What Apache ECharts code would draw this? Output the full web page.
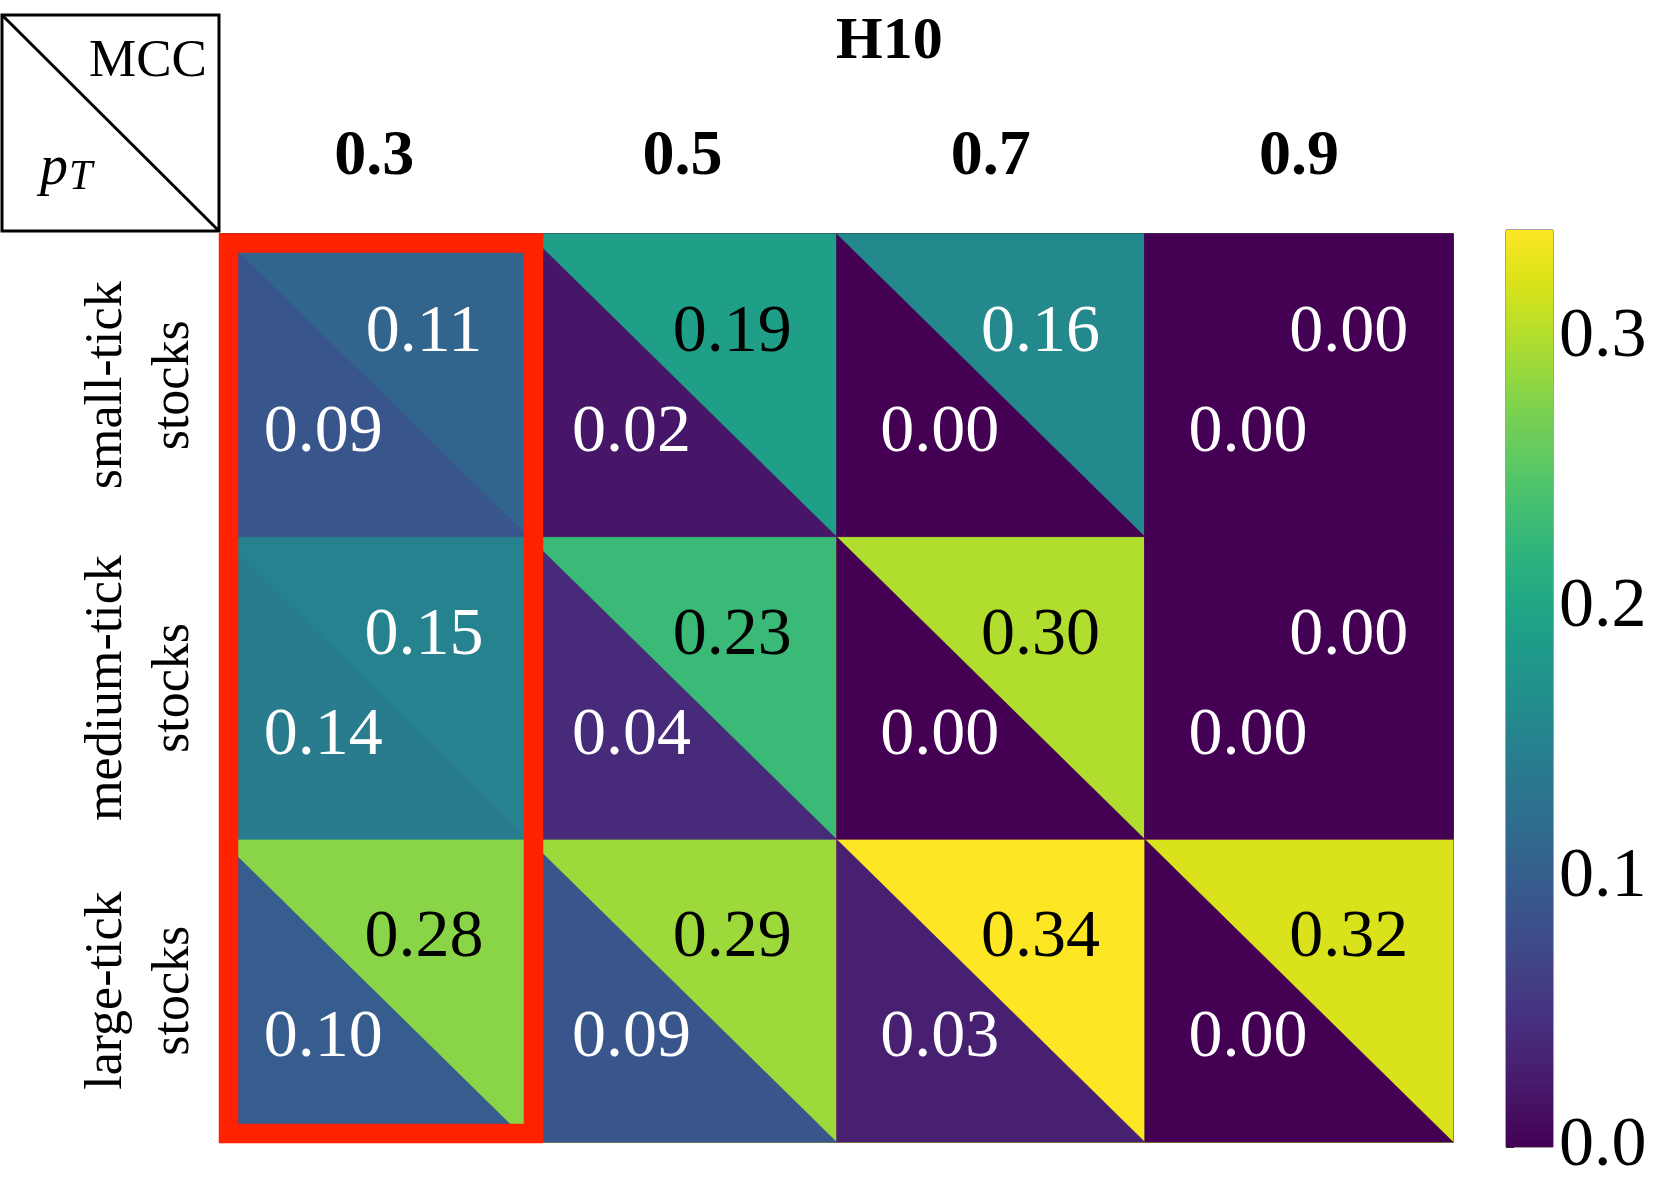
<!DOCTYPE html>
<html>
<head>
<meta charset="utf-8">
<script src="https://cdn.jsdelivr.net/npm/echarts@6/dist/echarts.min.js"></script>
<style>
  html, body { margin: 0; padding: 0; background: #fff; }
  #chart { width: 1661px; height: 1200px; }
</style>
</head>
<body>
<div id="chart"></div>
<script>
// 横轴: H10 阈值, 纵轴: 股票分组
var thresholds = ['0.3', '0.5', '0.7', '0.9']
var groups = ['small-tick\nstocks', 'medium-tick\nstocks', 'large-tick\nstocks']
// 右上三角 = MCC, 左下三角 = p_T
var mccValues = [
  [0.11, 0.19, 0.16, 0.00],
  [0.15, 0.23, 0.30, 0.00],
  [0.28, 0.29, 0.34, 0.32]
]
var ptValues = [
  [0.09, 0.02, 0.00, 0.00],
  [0.14, 0.04, 0.00, 0.00],
  [0.10, 0.09, 0.03, 0.00]
]
var colorbarTicks = [0, 0.1, 0.2, 0.3]
var vmax = 0.34

var viridis = ['#440154', '#471365', '#482475', '#463480', '#414487', '#3b528b', '#355f8d',
  '#2f6c8e', '#2a788e', '#25848e', '#21918c', '#1e9c89', '#22a884', '#2fb47c', '#44bf70',
  '#5ec962', '#7ad151', '#9bd93c', '#bddf26', '#dfe318', '#fde725']

var serif = '"Liberation Serif", "DejaVu Serif", serif'

// [列, 行, 值, 0=上三角/1=下三角]  上三角先画整格, 下三角再盖上去
var cells = []
for (var r = 0; r < groups.length; r++) {
  for (var c = 0; c < thresholds.length; c++) {
    cells.push([c, r, mccValues[r][c], 0])
  }
}
for (var r2 = 0; r2 < groups.length; r2++) {
  for (var c2 = 0; c2 < thresholds.length; c2++) {
    cells.push([c2, r2, ptValues[r2][c2], 1])
  }
}

function renderTriangle(params, api) {
  var center = api.coord([api.value(0), api.value(1)])
  var size = api.size([1, 1])
  var w = size[0]
  var h = size[1]
  var L = center[0] - w / 2
  var R = center[0] + w / 2
  var T = center[1] - h / 2
  var B = center[1] + h / 2
  var upper = api.value(3) === 0
  var color = api.visual('color')
  var v = api.value(2)
  var shape = upper
    ? { type: 'polygon', shape: { points: [[L, T], [R, T], [R, B], [L, B]] } }
    : { type: 'polygon', shape: { points: [[L, T], [L, B], [R, B]] } }
  shape.style = { fill: color, stroke: color, lineWidth: upper ? 1 : 0.6 }
  var tx = upper ? center[0] + w * 0.162 : center[0] - w * 0.165
  var ty = upper ? center[1] - h * 0.172 : center[1] + h * 0.158
  return {
    type: 'group',
    children: [
      shape,
      {
        type: 'text',
        z2: 10,
        style: {
          text: v.toFixed(2),
          x: tx,
          y: ty,
          fill: v >= 0.17 ? '#000' : '#fff',
          font: '68px ' + serif,
          align: 'center',
          verticalAlign: 'middle'
        }
      }
    ]
  }
}

function renderColorbar(params, api) {
  var p0 = api.coord([0, 0])
  var p1 = api.coord([1, vmax])
  var stops = viridis.map(function (col, i) {
    return { offset: 1 - i / (viridis.length - 1), color: col }
  })
  return {
    type: 'rect',
    shape: { x: p0[0], y: p1[1], width: p1[0] - p0[0], height: p0[1] - p1[1] },
    style: { fill: new echarts.graphic.LinearGradient(0, 0, 0, 1, stops) }
  }
}

var chart = echarts.init(document.getElementById('chart'), null, { renderer: 'canvas' })

var option = {
  backgroundColor: '#fff',
  animation: false,
  title: {
    text: 'H10',
    left: 831,
    top: 7,
    textStyle: { fontFamily: serif, fontWeight: 'bold', fontSize: 60, color: '#000' }
  },
  grid: [
    { left: 220, top: 234, width: 1233, height: 908, show: true, borderColor: '#000', borderWidth: 1.5 },
    { left: 1506, top: 230, width: 47, height: 917, show: true, borderColor: '#444', borderWidth: 1 }
  ],
  xAxis: [
    {
      type: 'category',
      gridIndex: 0,
      position: 'top',
      data: thresholds,
      axisLine: { show: false },
      axisTick: { show: false },
      axisLabel: { margin: 45, fontFamily: serif, fontWeight: 'bold', fontSize: 64, color: '#000' }
    },
    { type: 'value', gridIndex: 1, min: 0, max: 1, show: false }
  ],
  yAxis: [
    {
      type: 'category',
      gridIndex: 0,
      inverse: true,
      data: groups,
      axisLine: { show: false },
      axisTick: { show: false },
      axisLabel: {
        interval: 0,
        rotate: 90,
        margin: 12,
        fontFamily: serif,
        fontSize: 52,
        lineHeight: 67,
        color: '#000'
      }
    },
    {
      type: 'value',
      gridIndex: 1,
      position: 'right',
      min: 0,
      max: vmax,
      interval: 0.1,
      splitLine: { show: false },
      axisLine: { show: false },
      axisTick: { show: true, length: 8, lineStyle: { color: '#000', width: 1.5 } },
      axisLabel: {
        margin: 6,
        padding: [10, 0, 0, 0],
        fontFamily: serif,
        fontSize: 70,
        color: '#000',
        showMaxLabel: false,
        formatter: function (v) {
          return colorbarTicks.indexOf(Math.round(v * 10) / 10) >= 0 ? v.toFixed(1) : ''
        }
      }
    }
  ],
  visualMap: {
    type: 'continuous',
    show: false,
    min: 0,
    max: vmax,
    dimension: 2,
    seriesIndex: 0,
    inRange: { color: viridis }
  },
  series: [
    {
      type: 'custom',
      xAxisIndex: 0,
      yAxisIndex: 0,
      renderItem: renderTriangle,
      data: cells
    },
    {
      type: 'custom',
      xAxisIndex: 1,
      yAxisIndex: 1,
      renderItem: renderColorbar,
      data: [[0, 0]]
    }
  ],
  graphic: [
    // 左上角的表头框
    { type: 'rect', shape: { x: 2, y: 15, width: 217, height: 216 }, style: { fill: 'none', stroke: '#000', lineWidth: 3 } },
    { type: 'line', shape: { x1: 2, y1: 15, x2: 219, y2: 231 }, style: { stroke: '#000', lineWidth: 3 } },
    { type: 'text', style: { text: 'MCC', x: 148, y: 62, font: '53px ' + serif, fill: '#000', align: 'center', verticalAlign: 'middle' } },
    { type: 'text', style: { text: 'p', x: 40, y: 169, font: 'italic 56px ' + serif, fill: '#000', align: 'left', verticalAlign: 'middle' } },
    { type: 'text', style: { text: 'T', x: 69, y: 178, font: 'italic 42px ' + serif, fill: '#000', align: 'left', verticalAlign: 'middle' } },
    // 红色高亮框
    { type: 'rect', z: 100, shape: { x: 228.5, y: 243, width: 305, height: 890.5 }, style: { fill: 'none', stroke: '#ff2200', lineWidth: 19.5 } }
  ]
}

chart.setOption(option)
</script>
</body>
</html>
